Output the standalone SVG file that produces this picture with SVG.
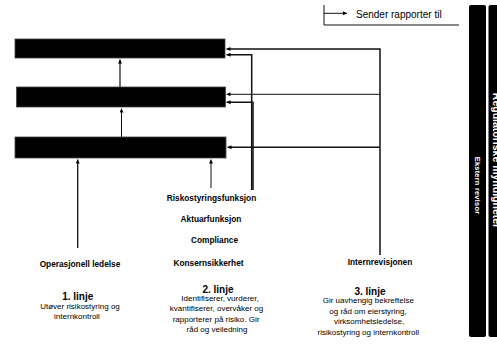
<svg xmlns="http://www.w3.org/2000/svg" width="497" height="353" viewBox="0 0 497 353">
<defs>
<style>
.box{fill:#000;stroke:#444;stroke-width:0.8}
.ln{fill:none;stroke:#111}
.lb{font-family:"Liberation Sans",Arial,sans-serif;font-weight:bold;font-size:8.3px;fill:#000;text-anchor:middle}
.hd{font-family:"Liberation Sans",Arial,sans-serif;font-weight:bold;font-size:10px;fill:#000;text-anchor:middle}
.tx{font-family:"Liberation Sans",Arial,sans-serif;font-size:8px;fill:#000;text-anchor:middle}
.bar{fill:#000}
.bt{font-family:"Liberation Sans",Arial,sans-serif;font-weight:bold;fill:#fff;text-anchor:middle}
</style>
<marker id="ah" viewBox="0 0 6 6" refX="6" refY="3" markerWidth="4" markerHeight="4" orient="auto" markerUnits="userSpaceOnUse">
<path d="M0,0 L6,3 L0,6 z" fill="#000"/>
</marker>
</defs>
<rect width="497" height="353" fill="#fff"/>

<g id="legend">
<path class="ln" d="M324,5 L324,25 L459,25" stroke-width="1"/>
<path class="ln" d="M324,13.3 L347,13.3" stroke-width="1" marker-end="url(#ah)"/>
<text x="356" y="17.5" font-family="Liberation Sans, Arial, sans-serif" font-size="10" fill="#000">Sender rapporter til</text>
</g>

<g id="box1"><rect class="box" x="15" y="39" width="210" height="19"/></g>
<g id="box2"><rect class="box" x="16.5" y="87" width="209" height="20"/></g>
<g id="box3"><rect class="box" x="15" y="137" width="211" height="21"/></g>

<g id="connectors">
<path class="ln" d="M120,87 L120,59.5" stroke-width="1.2" marker-end="url(#ah)"/>
<path class="ln" d="M121.5,137 L121.5,108.5" stroke-width="1" marker-end="url(#ah)"/>
<path class="ln" d="M77.7,248 L77.7,159.5" stroke-width="1.3" marker-end="url(#ah)"/>
<path class="ln" d="M211,188 L211,159.5" stroke-width="1" marker-end="url(#ah)"/>
<path class="ln" d="M380,255 L380,49 L226.5,49" stroke-width="1.5" marker-end="url(#ah)"/>
<path class="ln" d="M380,94.3 L226.5,94.3" stroke-width="1" marker-end="url(#ah)"/>
<path class="ln" d="M380,147.3 L227.5,147.3" stroke-width="1.5" marker-end="url(#ah)"/>
<path class="ln" d="M251.7,190 L251.7,54.7 L226.5,54.7" stroke-width="1.5" marker-end="url(#ah)"/>
<path class="ln" d="M253,190 L253,102.3 L226.5,102.3" stroke-width="1.5" marker-end="url(#ah)"/>
</g>

<g id="line1">
<text class="lb" x="80" y="267">Operasjonell ledelse</text>
<text class="hd" x="77.7" y="300">1. linje</text>
<text class="tx" x="80" y="309">Utøver risikostyring og</text>
<text class="tx" x="77" y="318.5">internkontroll</text>
</g>

<g id="line2">
<text class="lb" x="211.5" y="201">Riskostyringsfunksjon</text>
<text class="lb" x="211" y="221.5">Aktuarfunksjon</text>
<text class="lb" x="214.5" y="243">Compliance</text>
<text class="lb" x="208.5" y="265.5">Konsernsikkerhet</text>
<text class="hd" x="218" y="293">2. linje</text>
<text class="tx" x="220" y="301">Identifiserer, vurderer,</text>
<text class="tx" x="216.5" y="311">kvantifiserer, overvåker og</text>
<text class="tx" x="216" y="321.5">rapporterer på risiko. Gir</text>
<text class="tx" x="217" y="332">råd og veiledning</text>
</g>

<g id="line3">
<text class="lb" x="380" y="265">Internrevisjonen</text>
<text class="hd" x="370" y="295">3. linje</text>
<text class="tx" x="368.3" y="303">Gir uavhengig bekreftelse</text>
<text class="tx" x="368" y="313.5">og råd om eierstyring,</text>
<text class="tx" x="369" y="324">virksomhetsledelse,</text>
<text class="tx" x="368.3" y="335">risikostyring og internkontroll</text>
</g>

<g id="ekstern">
<rect class="bar" x="469" y="5" width="17" height="332" rx="2"/>
<text class="bt" transform="translate(475.3,185.5) rotate(90)" font-size="7.5" letter-spacing="0.2">Ekstern revisor</text>
</g>

<g id="regulatoriske">
<rect class="bar" x="488.5" y="5" width="12" height="332" rx="2"/>
<text class="bt" transform="translate(492.5,160.5) rotate(90)" font-size="10.5">Regulatoriske myndigheter</text>
</g>
</svg>
